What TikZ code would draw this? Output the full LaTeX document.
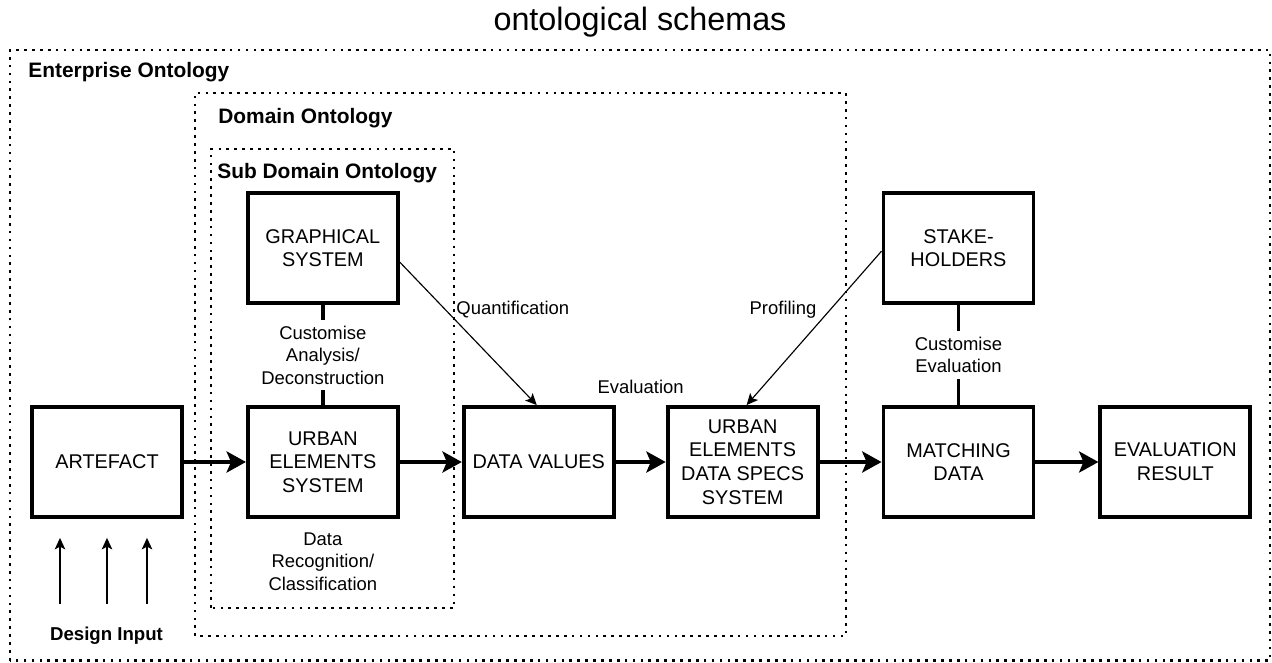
\documentclass[tikz,border=0pt]{standalone}
\usepackage{fontspec}
\setmainfont{Liberation Sans}
\usetikzlibrary{arrows.meta,positioning}

\tikzset{
  block/.style={draw, line width=2.2pt, minimum width=3cm, minimum height=2.2cm,
    align=center, font=\fontsize{11.3}{13.5}\selectfont},
  flow/.style={line width=2pt, -{Stealth[length=11pt,width=12pt,inset=2.5pt]}},
  feed/.style={line width=0.65pt, -{Stealth[length=6.5pt,width=6pt,inset=1.5pt]}},
  link/.style={line width=2pt},
  tag/.style={font=\fontsize{10.5}{12.8}\selectfont, align=center},
  area/.style={line width=1.5pt, dash pattern=on 1.5pt off 3pt},
  areatitle/.style={font=\fontsize{11.9}{14}\selectfont\bfseries, anchor=west, inner sep=0pt},
}

\begin{document}
\begin{tikzpicture}
\useasboundingbox (0,0) rectangle (25.44,13.24);
\node[font=\fontsize{18.4}{22}\selectfont] (title) at (12.8,12.8) {ontological schemas};
% nested ontology frames
\draw[area] (0.2,0.03) rectangle (25.4,12.24);
\draw[area] (3.9,0.52) rectangle (16.92,11.38);
\draw[area] (4.22,1.08) rectangle (9.08,10.26);
\node[areatitle] (ent) at (0.56,11.8) {Enterprise Ontology};
\node[areatitle] (dom) at (4.36,10.88) {Domain Ontology};
\node[areatitle] (sub) at (4.34,9.78) {Sub Domain Ontology};
% main chain
\node[block] (art) at (2.14,4) {ARTEFACT};
\node[block, right=1.24cm of art] (ues) {URBAN\\ELEMENTS\\SYSTEM};
\node[block, right=1.24cm of ues] (dv) {DATA VALUES};
\node[block, right=1cm of dv] (uedss) {URBAN\\ELEMENTS\\DATA SPECS\\SYSTEM};
\node[block, right=1.24cm of uedss] (match) {MATCHING\\DATA};
\node[block, right=1.26cm of match] (result) {EVALUATION\\RESULT};
\node[block, above=2cm of ues] (graph) {GRAPHICAL\\SYSTEM};
\node[block, above=2cm of match] (stake) {STAKE-\\HOLDERS};
\draw[flow] (art) -- (ues);
\draw[flow] (ues) -- (dv);
\draw[flow] (dv) -- node[tag, yshift=1.5cm] {Evaluation} (uedss);
\draw[flow] (uedss) -- (match);
\draw[flow] (match) -- (result);
% side links
\draw[link] (graph) -- node[tag, fill=white] {Customise\\Analysis/\\Deconstruction} (ues);
\draw[link] (stake) -- node[tag, fill=white] {Customise\\Evaluation} (match);
\node[tag, below=0.15cm of ues] (recog) {Data\\Recognition/\\Classification};
\draw[feed] ([yshift=-0.28cm]graph.east) -- node[tag, pos=0.33, anchor=west, xshift=0.1cm] {Quantification} ([xshift=-0.04cm]dv.north);
\draw[feed] ([yshift=-0.06cm]stake.west) -- node[tag, pos=0.38, anchor=east, xshift=-0.15cm] {Profiling} ([xshift=0.08cm]uedss.north);
% design input
\foreach \dx in {-0.94,0,0.8}
  \draw[feed] ([xshift=\dx cm, yshift=-1.7cm]art.south) -- ([xshift=\dx cm, yshift=-0.38cm]art.south);
\node[font=\fontsize{10.6}{13}\selectfont\bfseries] (input) at (2.13,0.52) {Design Input};
\end{tikzpicture}
\end{document}
